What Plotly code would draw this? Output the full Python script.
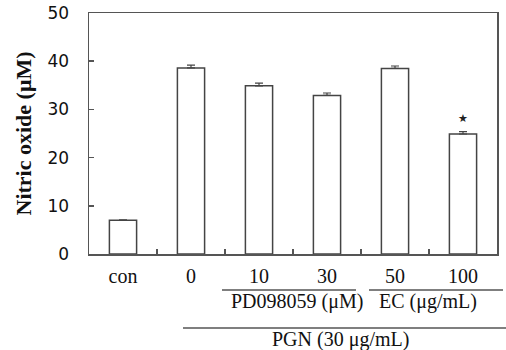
import plotly.graph_objects as go

categories = ["con", "0", "10", "30", "50", "100"]
values = [7.0, 38.6, 34.9, 32.9, 38.5, 24.9]
errors = [0.1, 0.6, 0.55, 0.5, 0.5, 0.5]
y_ticks = [0, 10, 20, 30, 40, 50]
star_index = 5
star_value = 28.2
group_labels = ["PD098059 (μM)", "EC (μg/mL)", "PGN (30 μg/mL)"]

W, H = 506, 350
L, R, T, B = 89, 497, 13, 254
pw, ph = R - L, B - T

def px(x):
    return (x - L) / pw

def py(y):
    return (B - y) / ph

serif = "Liberation Serif"
axis_col = "#555555"

fig = go.Figure()
fig.add_trace(go.Bar(
    x=categories, y=values,
    marker=dict(color="white", line=dict(color="#444444", width=1.5)),
    width=0.4,
    error_y=dict(type="data", array=errors, arrayminus=[0] * len(errors),
                 symmetric=False, visible=True, color="#444444",
                 thickness=1.2, width=4),
    hoverinfo="skip",
))

fig.add_annotation(x=star_index, y=star_value, text="★", showarrow=False,
                   font=dict(size=11, color="#222222", family="DejaVu Sans"),
                   xref="x", yref="y")

shapes = [
    (222, 356, 290),
    (369, 503, 290),
    (183, 506, 328),
]
for x0, x1, yy in shapes:
    fig.add_shape(type="line", xref="paper", yref="paper",
                  x0=px(x0), x1=px(x1), y0=py(yy), y1=py(yy),
                  line=dict(color="#555555", width=1.5))

label_pos = [(297, 301), (428, 301), (340, 339)]
for txt, (cx, cy) in zip(group_labels, label_pos):
    fig.add_annotation(x=px(cx), y=py(cy), xref="paper", yref="paper",
                       text=txt, showarrow=False,
                       font=dict(size=20, family=serif, color="#111111"),
                       xanchor="center", yanchor="middle")

fig.update_layout(
    width=W, height=H,
    margin=dict(l=L, r=W - R, t=T, b=H - B),
    plot_bgcolor="white", paper_bgcolor="white",
    showlegend=False,
    xaxis=dict(type="category", tickson="boundaries", ticks="inside", ticklen=5,
               tickcolor=axis_col, tickwidth=1.5,
               showline=True, linecolor=axis_col, linewidth=1.5, mirror=True,
               showgrid=False, automargin=False,
               tickfont=dict(size=20, family=serif, color="#111111"),
               ticklabelstandoff=3,
               range=[-0.5, 5.5]),
    yaxis=dict(range=[0, 50], tickvals=y_ticks, ticks="inside", ticklen=5,
               tickcolor=axis_col, tickwidth=1.5,
               showline=True, linecolor=axis_col, linewidth=1.5, mirror=True,
               showgrid=False, zeroline=False, automargin=False,
               ticklabeloverflow="allow",
               tickfont=dict(size=17, family="DejaVu Sans", color="#111111"),
               ticklabelstandoff=15,
               title=dict(text="<b>Nitric oxide (μM)</b>",
                          font=dict(size=22, family=serif, color="#111111"),
                          standoff=10)),
)

fig.write_html("out.html",
               config={"displayModeBar": False, "staticPlot": True},
               post_script="document.body.style.margin='0';document.body.style.overflow='hidden';")
